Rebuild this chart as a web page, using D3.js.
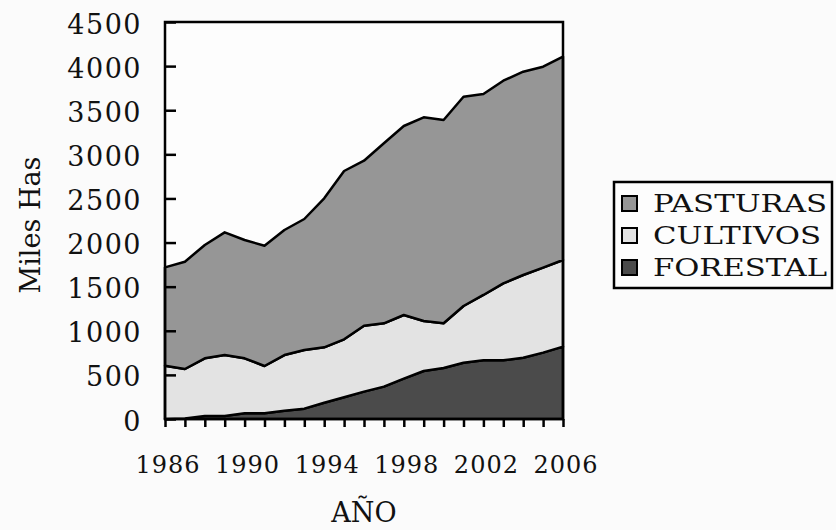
<!DOCTYPE html>
<html>
<head>
<meta charset="utf-8">
<script src="https://cdn.jsdelivr.net/npm/d3@7"></script>
<style>
  body { margin: 0; background: #fbfbfb; }
  svg { display: block; }
  text { font-family: "DejaVu Serif", serif; fill: #111; }
</style>
</head>
<body>
<svg id="chart" width="836" height="530"></svg>
<script>
// data (miles de hectareas)
const years = d3.range(1986, 2007);
const forestal = [0, 5, 34, 34, 64, 64, 94, 117, 185, 246, 310, 367, 457, 544, 578, 638, 665, 665, 695, 752, 820];
const cultivos = [604, 562, 654, 691, 624, 537, 631, 665, 627, 657, 748, 718, 722, 567, 507, 643, 741, 873, 937, 963, 982];
const pasturas = [1115, 1216, 1284, 1391, 1341, 1363, 1417, 1485, 1689, 1908, 1870, 2040, 2142, 2309, 2304, 2372, 2278, 2297, 2305, 2278, 2305];
const yTicks = d3.range(0, 4501, 500);
const xLabels = [1986, 1990, 1994, 1998, 2002, 2006];

const seriesNames = ["FORESTAL", "CULTIVOS", "PASTURAS"];
const colors = { FORESTAL: "#4b4b4b", CULTIVOS: "#e3e3e3", PASTURAS: "#969696" };

var rows = years.map(function (yr, i) {
  return { year: yr, FORESTAL: forestal[i], CULTIVOS: cultivos[i], PASTURAS: pasturas[i] };
});

var svg = d3.select("#chart");
// plot box (note: "top" is taken by window.top, so use other names)
var plotL = 165, plotR = 563, plotT = 22, plotB = 419;

var x = d3.scaleLinear().domain([1986, 2006]).range([plotL, plotR]);
var y = d3.scaleLinear().domain([0, 4500]).range([plotB, plotT]);

var stack = d3.stack().keys(seriesNames);
var layers = stack(rows);

var area = d3
  .area()
  .x(function (d) { return x(d.data.year); })
  .y0(function (d) { return y(d[0]); })
  .y1(function (d) { return y(d[1]); });

// plot background
svg.append("rect")
  .attr("x", plotL).attr("y", plotT)
  .attr("width", plotR - plotL).attr("height", plotB - plotT)
  .attr("fill", "#fdfdfd");

svg.append("g")
  .selectAll("path")
  .data(layers)
  .join("path")
  .attr("d", area)
  .attr("fill", function (d) { return colors[d.key]; })
  .attr("stroke", "#000")
  .attr("stroke-width", 2.5)
  .attr("stroke-linejoin", "round");

// frame
svg.append("rect")
  .attr("x", plotL).attr("y", plotT)
  .attr("width", plotR - plotL).attr("height", plotB - plotT)
  .attr("fill", "none")
  .attr("stroke", "#000")
  .attr("stroke-width", 2.5);

// y axis: ticks point inward
var yAxis = d3.axisRight(y).tickValues(yTicks).tickSize(11).tickFormat("");
var gy = svg.append("g").attr("transform", "translate(" + plotL + ",0)").call(yAxis);
gy.select(".domain").remove();
gy.selectAll("line").attr("stroke", "#000").attr("stroke-width", 2.5);

svg.append("g")
  .selectAll("text")
  .data(yTicks)
  .join("text")
  .attr("x", 142)
  .attr("y", function (d) { return y(d) + 4; })
  .attr("text-anchor", "end")
  .attr("dominant-baseline", "middle")
  .style("font-size", "27px")
  .style("letter-spacing", "1.5px")
  .text(function (d) { return d; });

// x axis: a tick for every year
var xAxis = d3.axisBottom(x).tickValues(years).tickSize(8).tickFormat("");
var gx = svg.append("g").attr("transform", "translate(0," + plotB + ")").call(xAxis);
gx.select(".domain").remove();
gx.selectAll("line").attr("stroke", "#000").attr("stroke-width", 2.5);

svg.append("g")
  .selectAll("text")
  .data(xLabels)
  .join("text")
  .attr("x", function (d) { return x(d) + 3; })
  .attr("y", 473)
  .attr("text-anchor", "middle")
  .style("font-size", "24px")
  .style("letter-spacing", "1px")
  .text(function (d) { return d; });

// axis titles
svg.append("text")
  .attr("transform", "translate(40,225) rotate(-90)")
  .attr("text-anchor", "middle")
  .style("font-size", "27px")
  .text("Miles Has");

svg.append("text")
  .attr("x", (plotL + plotR) / 2)
  .attr("y", 522)
  .attr("text-anchor", "middle")
  .style("font-size", "27px")
  .text("AÑO");

// legend, top entry is PASTURAS
var legendItems = seriesNames.slice().reverse();
var lg = svg.append("g");
lg.append("rect")
  .attr("x", 614).attr("y", 182)
  .attr("width", 218).attr("height", 106)
  .attr("fill", "#fdfdfd")
  .attr("stroke", "#000")
  .attr("stroke-width", 2.5);

var item = lg.selectAll("g.item")
  .data(legendItems)
  .join("g")
  .attr("class", "item")
  .attr("transform", function (d, i) { return "translate(0," + (203 + i * 32) + ")"; });

item.append("rect")
  .attr("x", 622).attr("y", -7)
  .attr("width", 15).attr("height", 15)
  .attr("fill", function (d) { return colors[d]; })
  .attr("stroke", "#000")
  .attr("stroke-width", 2);

item.append("text")
  .attr("x", 653)
  .attr("y", 9)
  .style("font-size", "25px")
  .attr("textLength", function (d) { return d === "CULTIVOS" ? 168 : 174; })
  .attr("lengthAdjust", "spacingAndGlyphs")
  .text(function (d) { return d; });
</script>
</body>
</html>
